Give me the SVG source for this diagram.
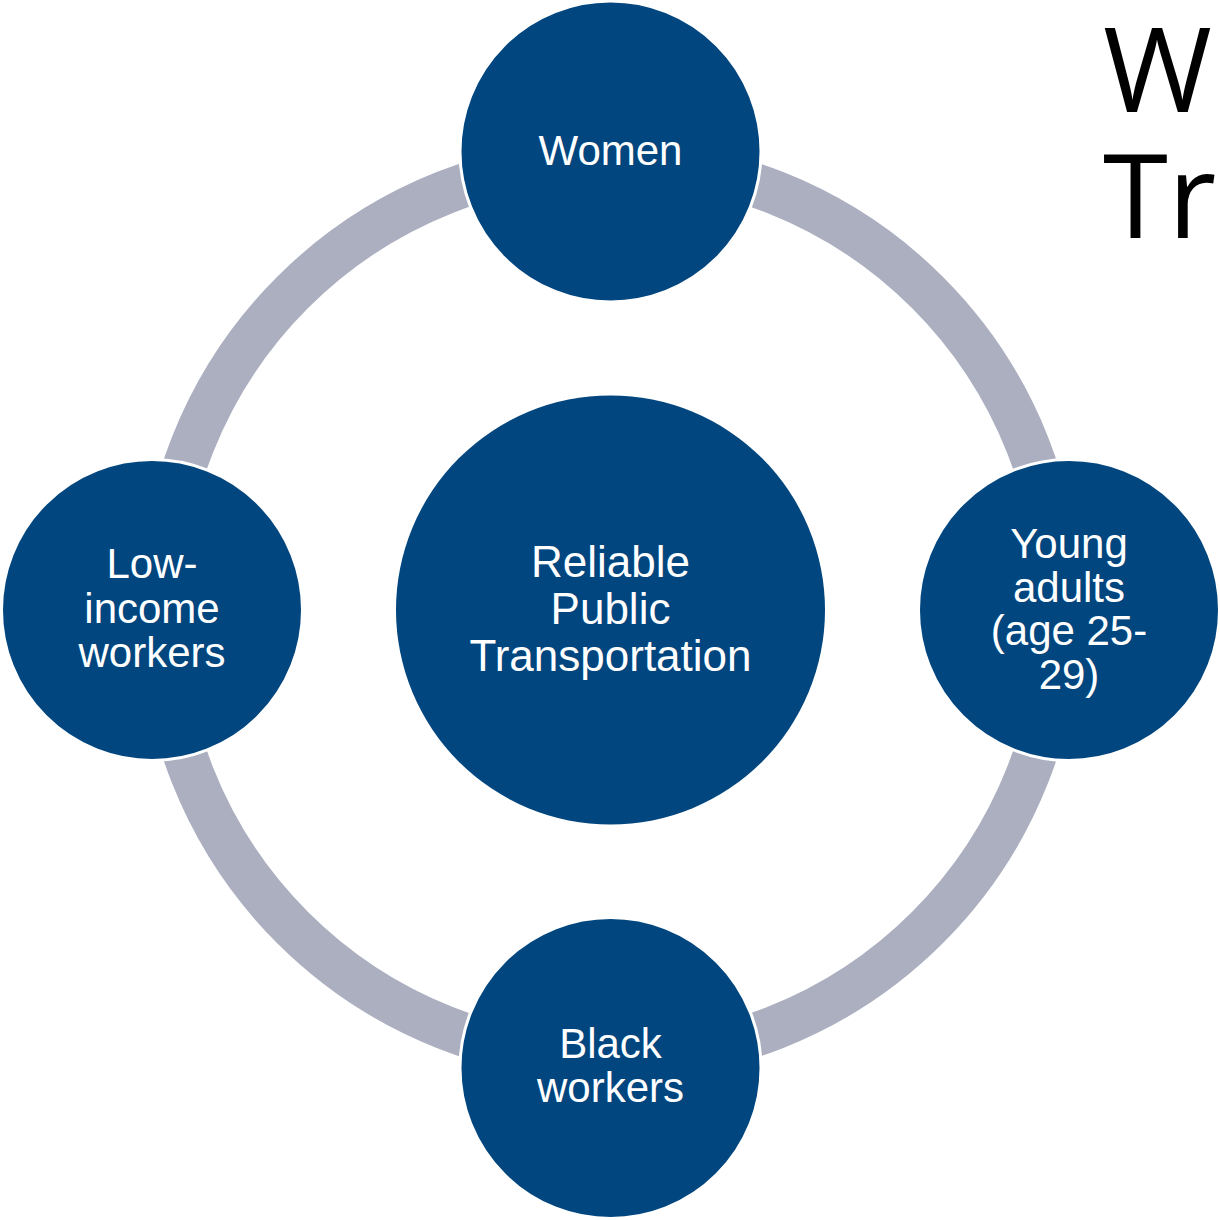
<svg xmlns="http://www.w3.org/2000/svg" width="1220" height="1220" viewBox="0 0 1220 1220">
  <style>
    .node { fill: #01467F; }
    .outer { fill: #01467F; stroke: #FFFFFF; stroke-width: 3; }
    .lbl { font-family: "Liberation Sans", Arial, sans-serif; font-size: 42px; fill: #FFFFFF; text-anchor: middle; }
    .center-lbl { font-size: 44px; }
    .title { font-family: "Open Sans", "Noto Sans", sans-serif; font-size: 118px; fill: #000000; }
  </style>
  <rect x="0" y="0" width="1220" height="1220" fill="#FFFFFF"/>
  <g id="connectors">
    <circle cx="610" cy="610" r="449" fill="none" stroke="#ABAFC0" stroke-width="44"/>
  </g>
  <g id="node-center">
    <circle class="node" cx="610.5" cy="610" r="214.5"/>
    <text class="lbl center-lbl"><tspan x="610.5" y="576.5">Reliable</tspan><tspan x="610.5" y="623.5">Public</tspan><tspan x="610.5" y="671">Transportation</tspan></text>
  </g>
  <g id="node-women">
    <circle class="outer" cx="610.5" cy="151.5" r="150.5"/>
    <text class="lbl"><tspan x="610.5" y="165">Women</tspan></text>
  </g>
  <g id="node-young-adults">
    <circle class="outer" cx="1069" cy="610" r="150.5"/>
    <text class="lbl"><tspan x="1069" y="558">Young</tspan><tspan x="1069" y="601.5">adults</tspan><tspan x="1069" y="645">(age 25-</tspan><tspan x="1069" y="688.5">29)</tspan></text>
  </g>
  <g id="node-black-workers">
    <circle class="outer" cx="610.5" cy="1068" r="150.5"/>
    <text class="lbl"><tspan x="610.5" y="1058">Black</tspan><tspan x="610.5" y="1101.5">workers</tspan></text>
  </g>
  <g id="node-low-income">
    <circle class="outer" cx="152" cy="610" r="150.5"/>
    <text class="lbl"><tspan x="152" y="578">Low-</tspan><tspan x="152" y="622.5">income</tspan><tspan x="152" y="666.5">workers</tspan></text>
  </g>
  <g id="title">
    <text class="title"><tspan x="1103" y="112">W</tspan><tspan x="1103" y="238">Tra</tspan></text>
  </g>
</svg>
